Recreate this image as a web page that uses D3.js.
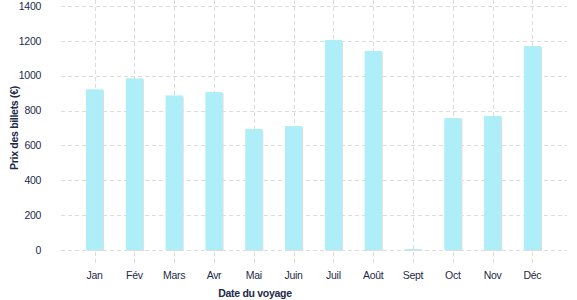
<!DOCTYPE html>
<html><head><meta charset="utf-8">
<script src="https://cdn.jsdelivr.net/npm/d3@7"></script>
<style>body{margin:0;background:#fff}svg{display:block}text{font-family:"Liberation Sans",Arial,sans-serif}</style>
</head><body><svg id="c" width="577" height="300"></svg>
<script>
const categories = ["Jan","Fév","Mars","Avr","Mai","Juin","Juil","Août","Sept","Oct","Nov","Déc"];
const values = [922,985,887,906,694,711,1205,1142,6,757,769,1170];
const yTicks = [0,200,400,600,800,1000,1200,1400];
const yTitle = "Prix des billets (€)";
const xTitle = "Date du voyage";

const svg = d3.select("#c");
const mLeft = 61, mRight = 567, mTop = 6, mBottom = 250;
const x = d3.scaleBand().domain(categories).range([86, 541]).paddingInner(0.57).paddingOuter(0);
const y = d3.scaleLinear().domain([0,1400]).range([mBottom, mTop]);
const ink = "#1e2a4a", grid = "#dcdcdc";
const cx = d => x(d) + x.bandwidth()/2;

// horizontal grid
svg.append("g").selectAll("line").data(yTicks).join("line")
  .attr("x1", mLeft).attr("x2", mRight)
  .attr("y1", d => Math.round(y(d))+0.5).attr("y2", d => Math.round(y(d))+0.5)
  .attr("stroke", grid).attr("stroke-dasharray","4,3");
// vertical grid
svg.append("g").selectAll("line").data(categories).join("line")
  .attr("x1", d => Math.round(cx(d))+0.5).attr("x2", d => Math.round(cx(d))+0.5)
  .attr("y1", 0).attr("y2", 265)
  .attr("stroke", grid).attr("stroke-dasharray","4,3");

// bar shadows
svg.append("g").selectAll("rect").data(values).join("rect")
  .attr("x", (d,i) => x(categories[i])+1).attr("y", d => y(d)+1)
  .attr("width", x.bandwidth()).attr("height", d => y(0)-y(d))
  .attr("fill", "#dedede");
// bars
svg.append("g").selectAll("rect").data(values).join("rect")
  .attr("x", (d,i) => x(categories[i])).attr("y", d => y(d))
  .attr("width", x.bandwidth()).attr("height", d => y(0)-y(d))
  .attr("fill", "#adeef8");

// y labels
svg.append("g").selectAll("text").data(yTicks).join("text")
  .attr("x", 41).attr("y", d => y(d)).attr("dy","0.35em")
  .attr("text-anchor","end").attr("font-size", 10.5).attr("fill", ink)
  .attr("letter-spacing","-0.3").text(d => d);
// x labels
svg.append("g").selectAll("text").data(categories).join("text")
  .attr("x", d => cx(d)).attr("y", 279)
  .attr("text-anchor","middle").attr("font-size", 10.5).attr("fill", ink)
  .attr("letter-spacing","-0.3").text(d => d);

svg.append("text").attr("x", 255).attr("y", 297).attr("text-anchor","middle")
  .attr("font-size", 10.5).attr("font-weight","bold").attr("fill", ink)
  .attr("letter-spacing","-0.3").text(xTitle);
svg.append("text").attr("transform","translate(18,128) rotate(-90)").attr("text-anchor","middle")
  .attr("font-size", 10.5).attr("font-weight","bold").attr("fill", ink)
  .attr("letter-spacing","-0.3").text(yTitle);
</script></body></html>
